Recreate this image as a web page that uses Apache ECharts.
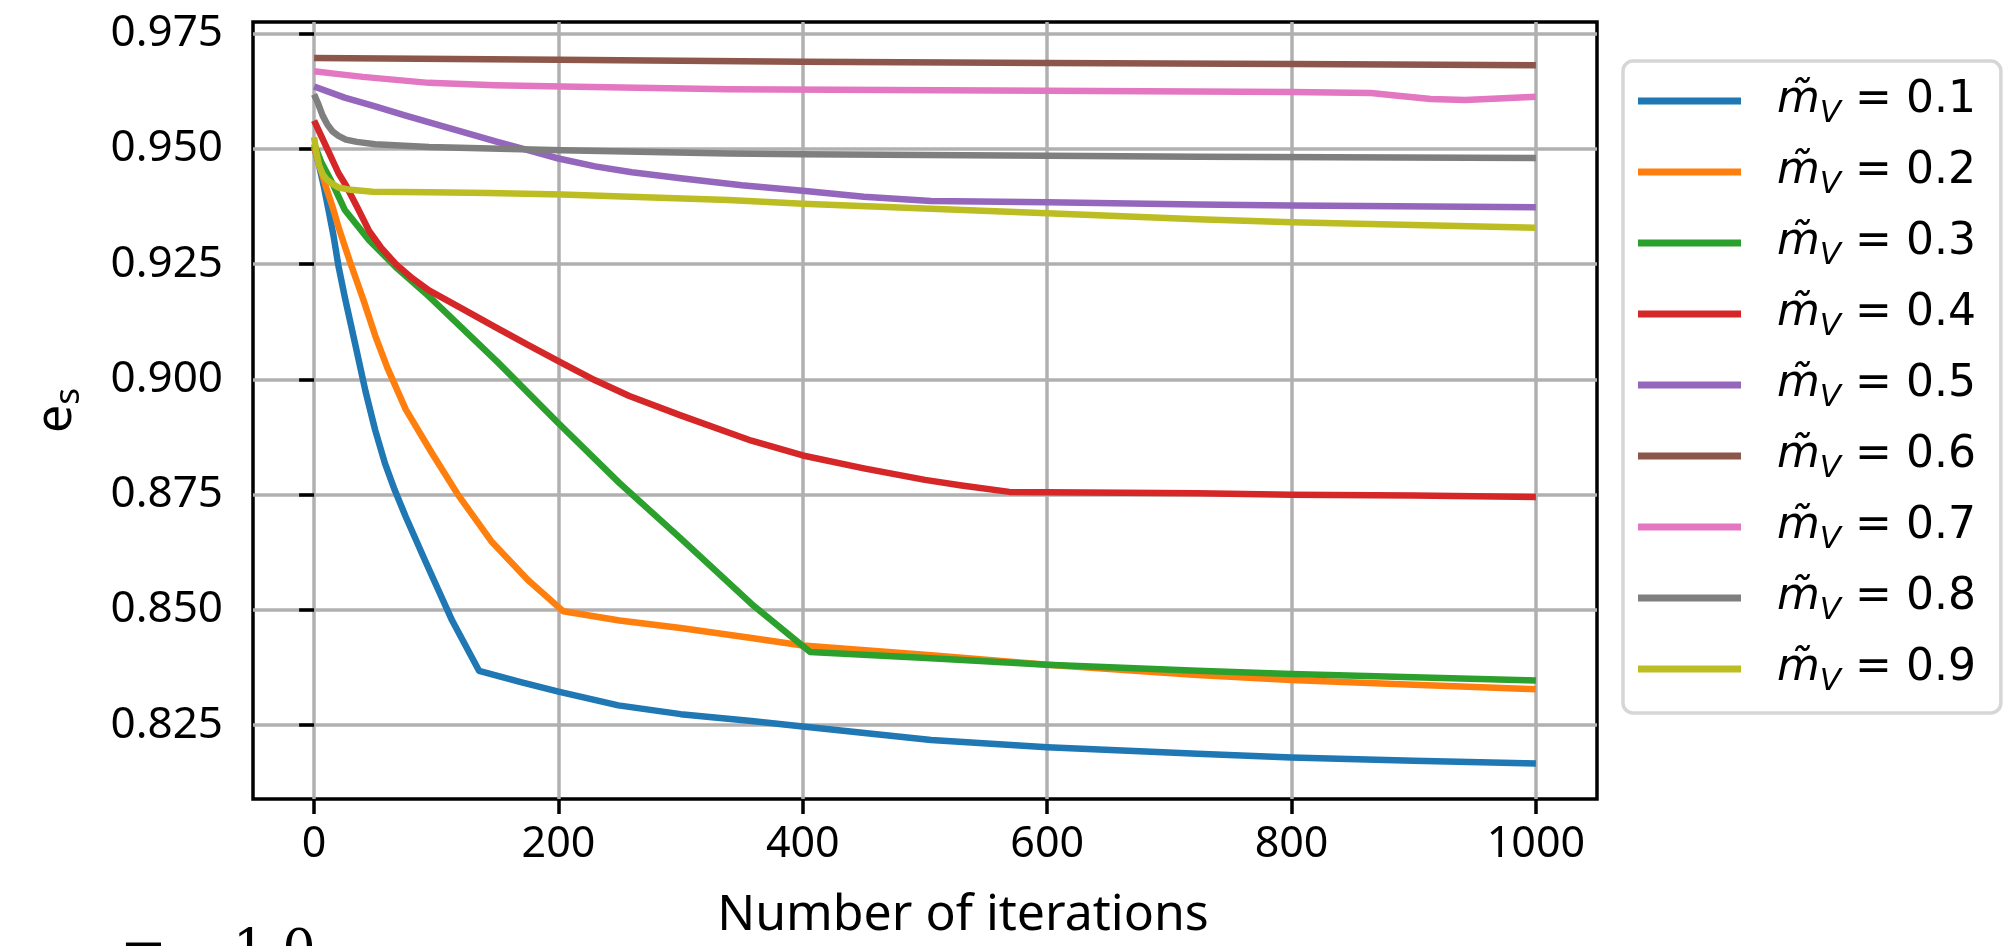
<!DOCTYPE html>
<html><head><meta charset="utf-8">
<script src="https://cdn.jsdelivr.net/npm/echarts@6/dist/echarts.min.js"></script>
<style>html,body{margin:0;padding:0;background:#fff}#c{width:2008px;height:946px}</style>
</head><body><div id="c"></div>
<script>
// ---- data ----
const seriesNames = ['0.1','0.2','0.3','0.4','0.5','0.6','0.7','0.8','0.9'];
const colors = ['#1f77b4','#ff7f0e','#2ca02c','#d62728','#9467bd','#8c564b','#e377c2','#7f7f7f','#bcbd22'];
const xTicks = [0,200,400,600,800,1000];
const yTicks = [0.825,0.85,0.875,0.9,0.925,0.95,0.975];

const x01 = [0,4,8,12,16,20,25,30,35,42,50,58,66,75,91,113,135,170,200,249,300,358,400,505,600,723,800,900,1000];
const y01 = [0.9505,0.9465,0.9418,0.9365,0.931,0.9245,0.918,0.912,0.906,0.8975,0.889,0.8818,0.876,0.8702,0.8606,0.8477,0.8368,0.8343,0.8323,0.8293,0.8274,0.8259,0.8247,0.8218,0.8202,0.8188,0.818,0.8173,0.8167];

const x02 = [0,5,10,15,20,25,30,40,50,60,75,96,118,145,175,204,250,300,358,400,505,600,723,800,900,1000];
const y02 = [0.9504,0.946,0.9415,0.9375,0.933,0.929,0.925,0.9175,0.9095,0.9025,0.8935,0.8842,0.8749,0.8649,0.8565,0.8497,0.8477,0.8461,0.8439,0.8423,0.8402,0.8381,0.8359,0.8348,0.8338,0.8328];

const x03 = [0,6,15,25,45,67,94,150,200,250,300,358,406,505,600,723,800,900,1000];
const y03 = [0.9511,0.947,0.9425,0.9368,0.9302,0.9243,0.918,0.9038,0.8905,0.8775,0.8655,0.8513,0.8409,0.8395,0.8381,0.8368,0.8361,0.8354,0.8347];

const x04 = [0,6,12,20,26,35,45,55,67,80,94,120,148,175,203,230,258,300,358,400,450,500,530,569,600,723,800,900,1000];
const y04 = [0.9561,0.9527,0.9493,0.9447,0.9421,0.9375,0.9322,0.9285,0.925,0.922,0.9193,0.9155,0.9114,0.9075,0.9035,0.8998,0.8964,0.8922,0.8867,0.8835,0.8807,0.8782,0.877,0.8756,0.8755,0.8753,0.875,0.8748,0.8745];

const x05 = [0,25,50,75,100,125,150,175,200,230,260,300,350,400,450,505,600,723,800,1000];
const y05 = [0.9635,0.9611,0.9592,0.9572,0.9553,0.9534,0.9515,0.9497,0.9479,0.9462,0.9449,0.9436,0.9421,0.9409,0.9396,0.9387,0.9384,0.9379,0.9377,0.9373];

const x06 = [0,200,400,600,800,1000];
const y06 = [0.9697,0.9693,0.9689,0.9686,0.9684,0.9681];

const x07 = [0,20,40,94,148,203,339,600,800,865,887,914,942,969,1000];
const y07 = [0.9668,0.9662,0.9656,0.9643,0.9638,0.9635,0.9629,0.9626,0.9623,0.9621,0.9615,0.9608,0.9606,0.9609,0.9613];

const x08 = [0,3,7,11,15,20,26,35,50,94,203,339,400,600,723,1000];
const y08 = [0.9618,0.960,0.9572,0.9552,0.9538,0.9528,0.952,0.9515,0.951,0.9504,0.9497,0.949,0.9488,0.9485,0.9483,0.948];

const x09 = [0,2,4,7,10,15,20,30,48,94,143,203,339,400,505,600,723,800,1000];
const y09 = [0.9525,0.949,0.9465,0.9445,0.9434,0.9424,0.9416,0.9411,0.9407,0.9406,0.9404,0.9401,0.9389,0.9381,0.937,0.936,0.9347,0.9341,0.9329];

const xs = [x01,x02,x03,x04,x05,x06,x07,x08,x09];
const ys = [y01,y02,y03,y04,y05,y06,y07,y08,y09];

// ---- chart ----
const FONT = 'Noto Sans';
const chart = echarts.init(document.getElementById('c'), null, {renderer:'canvas'});
const series = seriesNames.map((n,i)=>({
  name: n, type: 'line', showSymbol: false, symbol: 'none',
  data: xs[i].map((x,j)=>[x, ys[i][j]]),
  lineStyle: {color: colors[i], width: 6.5, cap: 'butt', join: 'round'},
  itemStyle: {color: colors[i]},
  z: 3 + i, animation: false
}));

chart.setOption({
  animation: false,
  backgroundColor: '#fff',
  grid: {left: 253, top: 22, width: 1344, height: 785, show: true,
         borderColor: '#000', borderWidth: 3.5, backgroundColor: 'transparent'},
  xAxis: {
    type: 'value', min: -50, max: 1050,
    name: 'Number of iterations', nameLocation: 'middle', nameGap: 92,
    nameTextStyle: {fontFamily: FONT, fontSize: 50, color: '#000', padding: [0, 0, 0, 76]},
    axisLine: {show: false},
    axisTick: {show: true, length: 15, customValues: xTicks, lineStyle: {color: '#000', width: 3.5}},
    axisLabel: {customValues: xTicks, margin: 24, fontFamily: FONT, fontSize: 43, color: '#000',
                formatter: v => String(v)},
    splitLine: {show: true, lineStyle: {color: '#b0b0b0', width: 3.5}}
  },
  yAxis: {
    type: 'value', min: 0.809, max: 0.9775,
    name: '{e|e}{s|s}', nameLocation: 'middle', nameGap: 166, nameRotate: 90,
    nameTextStyle: {rich: {
      e: {fontFamily: FONT, fontSize: 50, color: '#000', lineHeight: 60, verticalAlign: 'middle'},
      s: {fontFamily: FONT, fontSize: 35, color: '#000', lineHeight: 40, verticalAlign: 'bottom'}
    }},
    axisLine: {show: false},
    axisTick: {show: true, length: 15, customValues: yTicks, lineStyle: {color: '#000', width: 3.5}},
    axisLabel: {customValues: yTicks, margin: 30, fontFamily: FONT, fontSize: 44, color: '#000',
                formatter: v => v.toFixed(3)},
    splitLine: {show: true, lineStyle: {color: '#b0b0b0', width: 3.5}}
  },
  legend: {
    orient: 'vertical', left: 1623, top: 61,
    padding: [18, 25, 16, 15],
    itemWidth: 103, itemHeight: 7, icon: 'rect', itemGap: 21,
    borderColor: '#d6d6d6', borderWidth: 3.5, borderRadius: 10, backgroundColor: '#fff',
    data: seriesNames,
    formatter: n => '{m|m\u0303}{v|V}{t| = ' + n + '}',
    textStyle: {
      padding: [0, 0, 0, 31],
      rich: {
        m: {fontFamily: 'DejaVu Sans', fontStyle: 'italic', fontSize: 44, color: '#000', lineHeight: 56, verticalAlign: 'middle'},
        v: {fontFamily: 'DejaVu Sans', fontStyle: 'italic', fontSize: 31, color: '#000', lineHeight: 36, verticalAlign: 'bottom'},
        t: {fontFamily: 'DejaVu Sans', fontSize: 44, color: '#000', lineHeight: 56, verticalAlign: 'middle'}
      }
    }
  },
  graphic: [
    {type: 'text', x: 120, y: 953, silent: true,
     style: {text: '=', font: '56px "DejaVu Serif"', fill: '#000', textVerticalAlign: 'middle'}},
    {type: 'text', x: 233, y: 952, silent: true,
     style: {text: '1.0', font: '52px "DejaVu Serif"', fill: '#000', textVerticalAlign: 'middle'}}
  ],
  series: series
});
</script>
</body></html>
